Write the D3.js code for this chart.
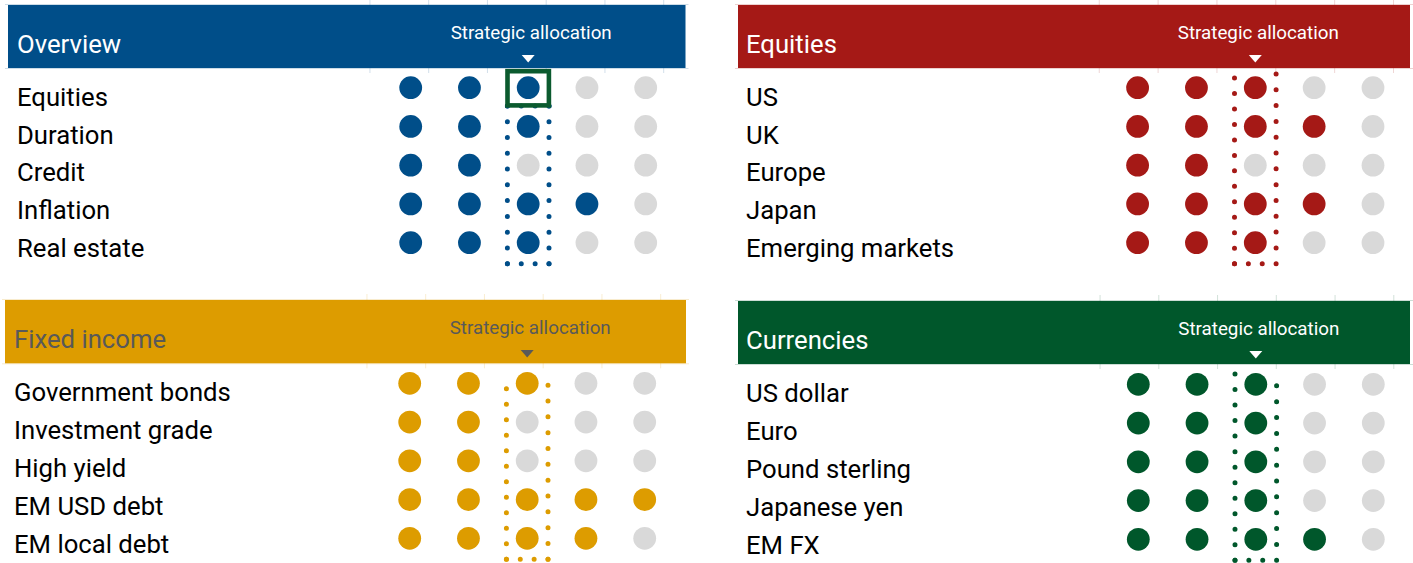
<!DOCTYPE html>
<html>
<head>
<meta charset="utf-8">
<script src="https://cdn.jsdelivr.net/npm/d3@7"></script>
<style>
  html, body { margin: 0; padding: 0; background: #ffffff; }
  svg { display: block; font-family: Roboto, "Noto Sans", sans-serif; }
</style>
</head>
<body>
<svg id="chart" width="1413" height="563"></svg>
<script>
// ---------- data ----------
const scaleSteps = [1, 2, 3, 4, 5];
const strategicStep = 3;
const strategicLabel = "Strategic allocation";

const overviewTitle = "Overview";
const overviewCategories = ["Equities", "Duration", "Credit", "Inflation", "Real estate"];
const overviewValues = [3, 3, 2, 4, 3];
const overviewChanged = ["Equities"];

const equitiesTitle = "Equities";
const equitiesCategories = ["US", "UK", "Europe", "Japan", "Emerging markets"];
const equitiesValues = [3, 4, 2, 4, 3];

const fixedIncomeTitle = "Fixed income";
const fixedIncomeCategories = ["Government bonds", "Investment grade", "High yield", "EM USD debt", "EM local debt"];
const fixedIncomeValues = [3, 2, 2, 5, 4];

const currenciesTitle = "Currencies";
const currenciesCategories = ["US dollar", "Euro", "Pound sterling", "Japanese yen", "EM FX"];
const currenciesValues = [3, 3, 3, 3, 4];

// ---------- layout / style ----------
const panels = [
  { title: overviewTitle, cats: overviewCategories, vals: overviewValues, changed: overviewChanged,
    color: "#004e89", textColor: "#ffffff",
    x0: 8, x1: 685.5, hTop: 5, hBot: 68, labelX: 17, dotX0: 410.7, dotX1: 645.7, rowY0: 87.7, rowY1: 242.7, gridOff: 18 },
  { title: equitiesTitle, cats: equitiesCategories, vals: equitiesValues, changed: [],
    color: "#a51916", textColor: "#ffffff",
    x0: 738, x1: 1410, hTop: 5, hBot: 68, labelX: 746, dotX0: 1137.6, dotX1: 1373, rowY0: 87.7, rowY1: 242.7, gridOff: 20.5 },
  { title: fixedIncomeTitle, cats: fixedIncomeCategories, vals: fixedIncomeValues, changed: [],
    color: "#dd9c00", textColor: "#595959",
    x0: 5, x1: 686, hTop: 300, hBot: 363.3, labelX: 14, dotX0: 409.7, dotX1: 644.7, rowY0: 383.3, rowY1: 538.3, gridOff: 16 },
  { title: currenciesTitle, cats: currenciesCategories, vals: currenciesValues, changed: [],
    color: "#00572b", textColor: "#ffffff",
    x0: 738, x1: 1410, hTop: 301, hBot: 364, labelX: 746, dotX0: 1138.3, dotX1: 1373.3, rowY0: 384.3, rowY1: 539.3, gridOff: 20.5 }
];

const greyDot = "#d9d9d9";
const dotR = 11.4;
const changedColor = "#0b5a2e";
const labelFont = 25.7;
const labelStep = 37.8;

const svg = d3.select("#chart");

panels.forEach(p => {
  const g = svg.append("g");
  const x = d3.scalePoint().domain(scaleSteps).range([p.dotX0, p.dotX1]);
  const y = d3.scalePoint().domain(p.cats).range([p.rowY0, p.rowY1]);
  const yLab = d3.scalePoint().domain(p.cats)
    .range([p.rowY0 + 18, p.rowY0 + 18 + labelStep * (p.cats.length - 1)]);
  const step = x.step();

  // faint grid ticks above and below header
  const gridXs = [0].concat(scaleSteps).map((s, i) => (i === 0 ? x(1) - step : x(s)) + p.gridOff);
  g.selectAll("line.gt").data(gridXs).join("line")
    .attr("x1", d => d).attr("x2", d => d)
    .attr("y1", p.hTop - 6).attr("y2", p.hBot + 5)
    .attr("stroke", p.color).attr("stroke-opacity", 0.18).attr("stroke-width", 1);
  g.append("line").attr("x1", p.x0 - 3).attr("x2", p.x1 + 3)
    .attr("y1", p.hTop - 0.5).attr("y2", p.hTop - 0.5)
    .attr("stroke", p.color).attr("stroke-opacity", 0.2);
  g.append("line").attr("x1", p.x0 - 3).attr("x2", p.x1 + 3)
    .attr("y1", p.hBot + 0.5).attr("y2", p.hBot + 0.5)
    .attr("stroke", p.color).attr("stroke-opacity", 0.2);

  // header
  g.append("rect").attr("x", p.x0).attr("y", p.hTop)
    .attr("width", p.x1 - p.x0).attr("height", p.hBot - p.hTop)
    .attr("fill", p.color);
  g.append("text").attr("x", p.labelX).attr("y", p.hTop + 48)
    .attr("fill", p.textColor).attr("font-size", labelFont).text(p.title);
  const sx = x(strategicStep);
  g.append("text").attr("x", sx + 3).attr("y", p.hTop + 34)
    .attr("text-anchor", "middle").attr("fill", p.textColor)
    .attr("font-size", 18.8).text(strategicLabel);
  g.append("path")
    .attr("d", `M${sx - 6.5},${p.hTop + 50} L${sx + 6.5},${p.hTop + 50} L${sx},${p.hTop + 57.5} Z`)
    .attr("fill", p.textColor);

  // row labels
  g.selectAll("text.lab").data(p.cats).join("text")
    .attr("x", p.labelX).attr("y", d => yLab(d))
    .attr("fill", "#000000").attr("font-size", labelFont).text(d => d);

  // dots
  const cells = [];
  p.cats.forEach((c, i) => scaleSteps.forEach(s => cells.push({ c, s, on: s <= p.vals[i] })));
  g.selectAll("circle.dot").data(cells).join("circle")
    .attr("cx", d => x(d.s)).attr("cy", d => y(d.c)).attr("r", dotR)
    .attr("fill", d => d.on ? p.color : greyDot);

  // dotted strategic box
  const bx0 = sx - 20.8, bx1 = sx + 20.8;
  const unchanged = p.cats.filter(c => !p.changed.includes(c));
  const boxBottom = y(p.cats[p.cats.length - 1]) + 21;
  const hasTop = p.changed.length > 0;
  const boxTop = hasTop ? y(unchanged[0]) - 20.5 : p.hBot + 4;
  const dotted = (x1, y1, x2, y2, n) => {
    const len = Math.hypot(x2 - x1, y2 - y1);
    const gap = len / n;
    g.append("line").attr("x1", x1).attr("y1", y1).attr("x2", x2).attr("y2", y2)
      .attr("stroke", p.color).attr("stroke-width", 5).attr("stroke-linecap", "round")
      .attr("stroke-dasharray", `0,${gap}`);
  };
  const vh = boxBottom - boxTop;
  const nv = Math.round(vh / 16.5);
  dotted(bx0, boxBottom, bx0, boxTop + (hasTop ? 0 : 6), nv);
  dotted(bx1, boxBottom, bx1, boxTop + (hasTop ? 0 : 2), nv);
  dotted(bx0, boxBottom, bx1, boxBottom, 3);
  if (hasTop) dotted(bx0, boxTop, bx1, boxTop, 3);

  // changed marker (solid frame)
  p.changed.forEach(c => {
    g.append("rect").attr("x", sx - 20.7).attr("y", y(c) + 0.6 - 17.1)
      .attr("width", 41.4).attr("height", 34.2)
      .attr("fill", "none").attr("stroke", changedColor).attr("stroke-width", 4.6);
  });
});
</script>
</body>
</html>
